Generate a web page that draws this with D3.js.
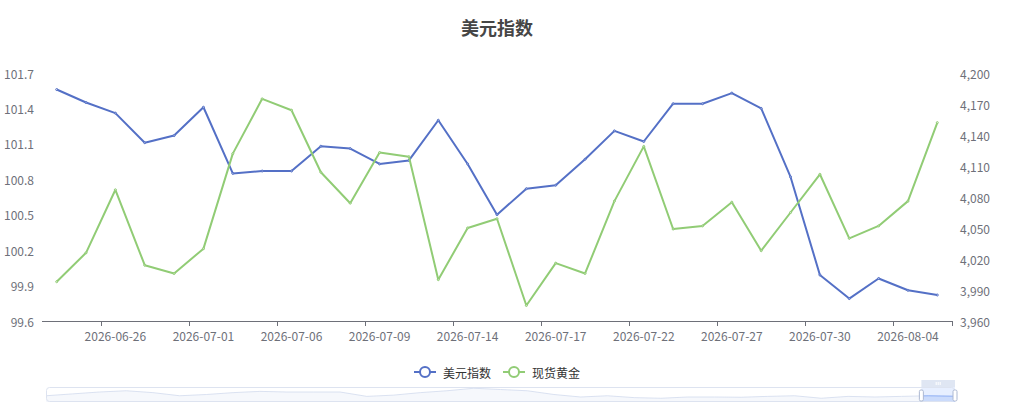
<!DOCTYPE html>
<html>
<head>
<meta charset="utf-8">
<script src="https://cdn.jsdelivr.net/npm/d3@7/dist/d3.min.js"></script>
<style>
  html, body { margin: 0; padding: 0; background: #fff; }
  text { font-family: "Noto Sans CJK SC", "Noto Sans", sans-serif; }
</style>
</head>
<body>
<svg id="chart" width="1010" height="417"></svg>
<script>
// ---------------- data ----------------
const dates = [
  "2026-06-24","2026-06-25","2026-06-26","2026-06-29","2026-06-30","2026-07-01",
  "2026-07-02","2026-07-03","2026-07-06","2026-07-07","2026-07-08","2026-07-09",
  "2026-07-10","2026-07-13","2026-07-14","2026-07-15","2026-07-16","2026-07-17",
  "2026-07-20","2026-07-21","2026-07-22","2026-07-23","2026-07-24","2026-07-27",
  "2026-07-28","2026-07-29","2026-07-30","2026-07-31","2026-08-03","2026-08-04",
  "2026-08-05"
];
const usdIndex = [
  101.56, 101.45, 101.36, 101.11, 101.17, 101.41,
  100.85, 100.87, 100.87, 101.08, 101.06, 100.93,
  100.96, 101.30, 100.93, 100.50, 100.72, 100.75,
  100.97, 101.21, 101.12, 101.44, 101.44, 101.53,
  101.40, 100.82, 99.99, 99.79, 99.96, 99.86,
  99.82
];
const spotGold = [
  3998, 4026, 4087, 4014, 4006, 4030,
  4122, 4175, 4164, 4104, 4074, 4123,
  4119, 4000, 4050, 4059, 3975, 4016,
  4006, 4076, 4129, 4049, 4052, 4075,
  4028, 4065, 4102, 4040, 4052, 4076,
  4152
];
const leftTicks = [99.6, 99.9, 100.2, 100.5, 100.8, 101.1, 101.4, 101.7];
const rightTicks = [3960, 3990, 4020, 4050, 4080, 4110, 4140, 4170, 4200];
const seriesNames = ["美元指数", "现货黄金"];
const titleText = "美元指数";
// estimated full-history shadow of the data-zoom slider (USD index, approx.)
const zoomShadow = [
  100.0, 101.5, 103.0, 104.0, 102.5, 100.0, 101.0, 102.5, 103.5, 103.0,
  103.0, 103.0, 99.5, 100.5, 102.5, 104.0, 106.0, 105.0, 104.0, 101.0,
  99.0, 100.0, 98.5, 98.0, 99.0, 99.0, 98.8, 99.5, 100.0, 98.0,
  99.5, 99.0, 99.5, 100.0, 99.6
];
const zoomWindow = [0.963, 1.0];

// ---------------- layout ----------------
const W = 1010, H = 417;
const grid = { left: 42, right: 952, top: 73, bottom: 321 };
const colors = ["#5470c6", "#91cc75"];
const axisColor = "#6E7079";

const svg = d3.select("#chart");

// title
svg.append("text")
  .attr("x", 497).attr("y", 27)
  .attr("text-anchor", "middle").attr("dominant-baseline", "central")
  .attr("font-size", 18).attr("font-weight", "bold").attr("fill", "#464646")
  .text(titleText);

// scales
const x = d3.scaleBand().domain(dates).range([grid.left, grid.right]).padding(0);
const cx = d => x(d) + x.bandwidth() / 2;
const yL = d3.scaleLinear().domain([leftTicks[0], leftTicks[leftTicks.length - 1]]).range([grid.bottom, grid.top]);
const yR = d3.scaleLinear().domain([rightTicks[0], rightTicks[rightTicks.length - 1]]).range([grid.bottom, grid.top]);

// left axis labels
svg.append("g").selectAll("text").data(leftTicks).join("text")
  .attr("x", grid.left - 8).attr("y", d => yL(d))
  .attr("text-anchor", "end").attr("dominant-baseline", "central")
  .attr("font-size", 12).attr("fill", axisColor)
  .text(d => d3.format(".1f")(d));

// right axis labels
svg.append("g").selectAll("text").data(rightTicks).join("text")
  .attr("x", grid.right + 8).attr("y", d => yR(d))
  .attr("text-anchor", "start").attr("dominant-baseline", "central")
  .attr("font-size", 12).attr("fill", axisColor)
  .text(d => d3.format(",")(d));

// x axis
const xa = svg.append("g");
xa.append("line")
  .attr("x1", grid.left).attr("x2", grid.right)
  .attr("y1", grid.bottom + 0.5).attr("y2", grid.bottom + 0.5)
  .attr("stroke", axisColor).attr("stroke-width", 1);
const labelled = dates.filter((d, i) => i % 3 === 2);
const tickPos = labelled.map(d => x(d)).concat([grid.right]);
xa.selectAll("line.tick").data(tickPos).join("line").attr("class", "tick")
  .attr("x1", d => Math.round(d) + 0.5).attr("x2", d => Math.round(d) + 0.5)
  .attr("y1", grid.bottom).attr("y2", grid.bottom + 5)
  .attr("stroke", axisColor).attr("stroke-width", 1);
xa.selectAll("text").data(labelled).join("text")
  .attr("x", d => cx(d)).attr("y", grid.bottom + 14)
  .attr("text-anchor", "middle").attr("dominant-baseline", "central")
  .attr("font-size", 12).attr("fill", axisColor)
  .text(d => d);

// series
const seriesData = [
  { name: seriesNames[0], values: usdIndex, y: yL, color: colors[0] },
  { name: seriesNames[1], values: spotGold, y: yR, color: colors[1] }
];
seriesData.forEach(s => {
  const line = d3.line().x((v, i) => cx(dates[i])).y(v => s.y(v));
  svg.append("path").datum(s.values)
    .attr("d", line).attr("fill", "none")
    .attr("stroke", s.color).attr("stroke-width", 2)
    .attr("stroke-linejoin", "bevel");
  svg.append("g").selectAll("circle").data(s.values).join("circle")
    .attr("cx", (v, i) => cx(dates[i])).attr("cy", v => s.y(v))
    .attr("r", 1).attr("fill", "#fff").attr("fill-opacity", 0.6)
    .attr("stroke", s.color).attr("stroke-width", 1);
});

// legend
const legendItems = [
  { name: seriesNames[0], color: colors[0], x0: 414 },
  { name: seriesNames[1], color: colors[1], x0: 503 }
];
const lg = svg.append("g");
legendItems.forEach(it => {
  const ly = 372;
  lg.append("line").attr("x1", it.x0).attr("x2", it.x0 + 22)
    .attr("y1", ly).attr("y2", ly).attr("stroke", it.color).attr("stroke-width", 2);
  lg.append("circle").attr("cx", it.x0 + 11).attr("cy", ly).attr("r", 5)
    .attr("fill", "#fff").attr("stroke", it.color).attr("stroke-width", 2);
  lg.append("text").attr("x", it.x0 + 29).attr("y", ly)
    .attr("dominant-baseline", "central").attr("font-size", 12).attr("fill", "#333")
    .text(it.name);
});

// data zoom slider
const dz = { left: 46, right: 955, top: 387, bottom: 402 };
const dzg = svg.append("g");
const sx = d3.scaleLinear().domain([0, zoomShadow.length - 1]).range([dz.left, dz.right]);
const sy = d3.scaleLinear().domain([d3.min(zoomShadow) - 3, d3.max(zoomShadow) + 1]).range([dz.bottom, dz.top]);
const area = d3.area().x((v, i) => sx(i)).y0(dz.bottom).y1(v => sy(v));
const sline = d3.line().x((v, i) => sx(i)).y(v => sy(v));
dzg.append("rect").attr("x", dz.left).attr("y", dz.top)
  .attr("width", dz.right - dz.left).attr("height", dz.bottom - dz.top)
  .attr("rx", 3).attr("fill", "#fff");
dzg.append("path").datum(zoomShadow).attr("d", area).attr("fill", "#d2dbee").attr("fill-opacity", 0.2);
dzg.append("path").datum(zoomShadow).attr("d", sline).attr("fill", "none")
  .attr("stroke", "#d2dbee").attr("stroke-width", 0.8);
const fx0 = dz.left + (dz.right - dz.left) * zoomWindow[0];
const fx1 = dz.left + (dz.right - dz.left) * zoomWindow[1];
dzg.append("defs").append("clipPath").attr("id", "selclip")
  .append("rect").attr("x", fx0).attr("y", dz.top).attr("width", fx1 - fx0).attr("height", dz.bottom - dz.top);
dzg.append("path").datum(zoomShadow).attr("d", area).attr("fill", "#8fb0f7").attr("fill-opacity", 0.25)
  .attr("clip-path", "url(#selclip)");
dzg.append("path").datum(zoomShadow).attr("d", sline).attr("fill", "none")
  .attr("stroke", "#8fb0f7").attr("stroke-width", 0.8).attr("clip-path", "url(#selclip)");
dzg.append("rect").attr("x", fx0).attr("y", dz.top).attr("width", fx1 - fx0).attr("height", dz.bottom - dz.top)
  .attr("fill", "rgb(135,175,274)").attr("fill-opacity", 0.2);
dzg.append("rect").attr("x", dz.left + 0.5).attr("y", dz.top + 0.5)
  .attr("width", dz.right - dz.left - 1).attr("height", dz.bottom - dz.top - 1)
  .attr("rx", 3).attr("fill", "none").attr("stroke", "#dde3f0").attr("stroke-width", 1);
// move handle
dzg.append("rect").attr("x", fx0).attr("y", dz.top - 7).attr("width", fx1 - fx0).attr("height", 7)
  .attr("fill", "#d2dbee").attr("fill-opacity", 0.7);
[-2, 0, 2].forEach(o => {
  dzg.append("line").attr("x1", (fx0 + fx1) / 2 + o).attr("x2", (fx0 + fx1) / 2 + o)
    .attr("y1", dz.top - 5).attr("y2", dz.top - 2).attr("stroke", "#fff").attr("stroke-width", 1);
});
// handles
[fx0, fx1].forEach(hx => {
  dzg.append("rect").attr("x", hx - 2).attr("y", dz.top + 3).attr("width", 4).attr("height", 11)
    .attr("rx", 1.5).attr("fill", "#fff").attr("stroke", "#ACB8D1").attr("stroke-width", 1);
});
</script>
</body>
</html>
